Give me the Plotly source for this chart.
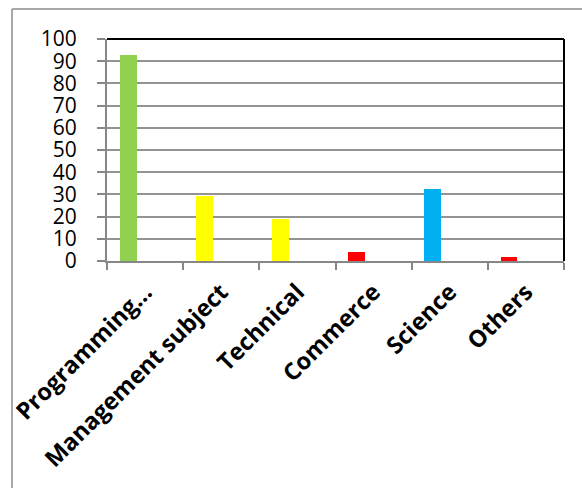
import plotly.graph_objects as go

# Subject categories and their percentages
categories = ["Programming…", "Management subject", "Technical", "Commerce", "Science", "Others"]
values = [92.8, 29.3, 18.8, 3.9, 32.3, 1.7]
bar_colors = ["#92D050", "#FFFF00", "#FFFF00", "#FF0000", "#00B0F0", "#FF0000"]
y_ticks = [0, 10, 20, 30, 40, 50, 60, 70, 80, 90, 100]

W, H = 582, 488
L, R, T, B = 107, 18, 39, 227
PW, PH = W - L - R, H - T - B


def px_x(px):
    return (px - L) / PW


def px_y(py):
    return (H - B - py) / PH


fig = go.Figure()
fig.add_trace(go.Bar(
    x=categories,
    y=values,
    marker=dict(color=bar_colors, line=dict(width=0)),
    width=1 / 4.5,
    offset=-1 / 3,
    hoverinfo="x+y",
))

axis_grey = "#878787"

fig.update_layout(
    width=W,
    height=H,
    margin=dict(l=L, r=R, t=T, b=B, pad=0, autoexpand=False),
    paper_bgcolor="white",
    plot_bgcolor="white",
    showlegend=False,
    bargap=0,
    xaxis=dict(
        type="category",
        range=[-0.5, 5.5],
        automargin=False,
        showgrid=False,
        showline=True,
        linecolor=axis_grey,
        linewidth=2,
        ticks="outside",
        tickson="boundaries",
        ticklen=7,
        tickwidth=2,
        tickcolor=axis_grey,
        tickangle=-45,
        ticklabelstandoff=6,
        tickfont=dict(family="Open Sans", size=23.5, color="black", weight="bold"),
    ),
    yaxis=dict(
        range=[0, 100],
        automargin=False,
        tickvals=y_ticks,
        ticktext=[str(v) for v in y_ticks],
        showgrid=True,
        gridcolor="#939393",
        gridwidth=1.5,
        zeroline=False,
        showline=True,
        linecolor=axis_grey,
        linewidth=2,
        ticks="outside",
        ticklen=8,
        tickwidth=2,
        tickcolor=axis_grey,
        ticklabelstandoff=16,
        tickfont=dict(family="Open Sans", size=21, color="black"),
    ),
    shapes=[
        # plot-area frame: top and right edges in black
        dict(type="line", xref="paper", yref="paper", x0=0, x1=1, y0=1, y1=1,
             line=dict(color="black", width=2)),
        dict(type="line", xref="paper", yref="paper", x0=1, x1=1, y0=0, y1=1,
             line=dict(color="black", width=2)),
        # chart-area border
        dict(type="line", xref="paper", yref="paper",
             x0=px_x(12), x1=px_x(600), y0=px_y(9), y1=px_y(9),
             line=dict(color="#8c8c8c", width=1.5)),
        dict(type="line", xref="paper", yref="paper",
             x0=px_x(12), x1=px_x(12), y0=px_y(9), y1=px_y(500),
             line=dict(color="#8c8c8c", width=1.5)),
    ],
)

fig.write_html("out.html")
